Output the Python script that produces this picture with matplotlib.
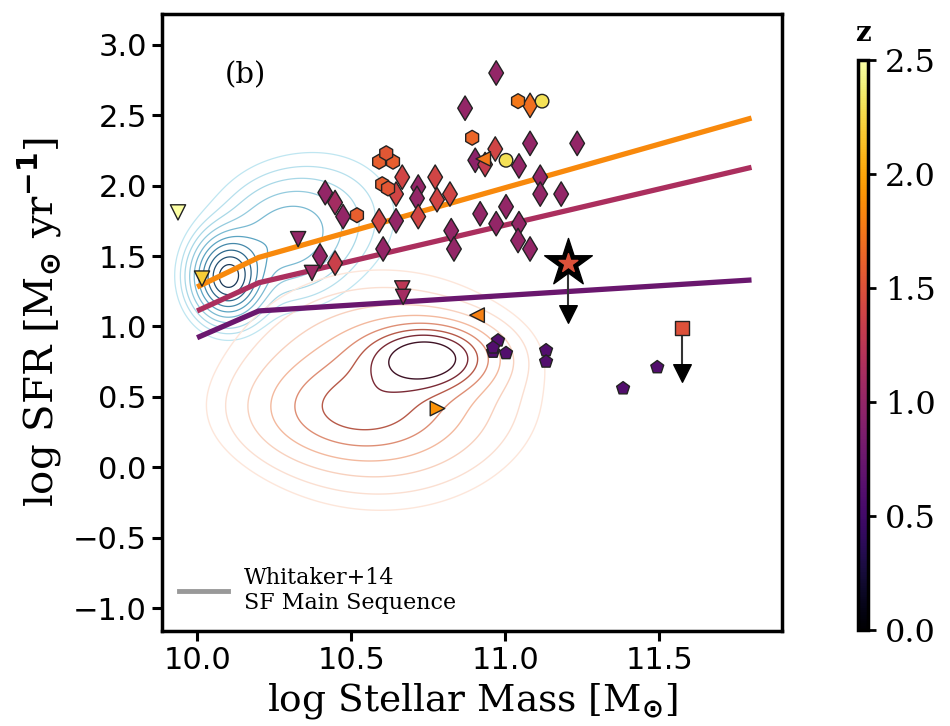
import numpy as np
import matplotlib
matplotlib.use("Agg")
import matplotlib.pyplot as plt
from matplotlib.lines import Line2D
from matplotlib.colors import LinearSegmentedColormap

# ---------------- data ----------------
# Whitaker+14 main sequence (broken line) in three redshift bins
ms_mass = [10.0, 10.2, 11.8]
ms_sfr_lowz = [0.92, 1.11, 1.33]
ms_sfr_midz = [1.11, 1.31, 2.13]
ms_sfr_highz = [1.28, 1.49, 2.48]
ms_z = [0.75, 1.15, 1.85]

# diamonds
dia_mass = [10.971, 10.870, 11.081, 11.081, 11.234, 10.903, 10.968, 11.045, 11.114, 11.114,
            11.182, 10.821, 10.919, 11.003, 10.971, 11.045, 11.042, 11.081, 10.825, 10.834,
            10.666, 10.646, 10.718, 10.714, 10.773, 10.779, 10.416, 10.448, 10.474, 10.591,
            10.646, 10.718, 10.604, 10.399, 10.448, 10.935]
dia_sfr = [2.80, 2.55, 2.57, 2.30, 2.30, 2.18, 2.26, 2.14, 2.06, 1.94,
           1.94, 1.94, 1.80, 1.85, 1.73, 1.73, 1.61, 1.55, 1.68, 1.55,
           2.06, 1.94, 1.99, 1.91, 2.06, 1.90, 1.95, 1.88, 1.78, 1.75,
           1.75, 1.78, 1.55, 1.50, 1.45, 2.15]
dia_z = [1.0, 1.0, 1.7, 1.0, 1.0, 0.95, 1.4, 1.0, 1.0, 1.0,
         1.0, 1.4, 1.0, 1.0, 1.0, 1.0, 1.0, 1.0, 1.0, 1.0,
         1.4, 1.4, 1.0, 1.0, 1.4, 1.4, 1.0, 1.1, 1.0, 1.4,
         1.0, 1.4, 1.0, 1.0, 1.35, 1.3]

# hexagons
hex_mass = [10.591, 10.636, 10.614, 10.601, 10.620, 10.519, 10.893, 11.042]
hex_sfr = [2.17, 2.17, 2.23, 2.01, 1.98, 1.79, 2.34, 2.60]
hex_z = [1.6, 1.6, 1.55, 1.6, 1.55, 1.6, 1.65, 1.75]

# circles
circ_mass = [11.120, 11.003]
circ_sfr = [2.60, 2.18]
circ_z = [2.3, 2.3]

# pentagons
pent_mass = [10.977, 10.961, 11.003, 10.961, 11.133, 11.133, 11.494, 11.383]
pent_sfr = [0.90, 0.82, 0.81, 0.85, 0.83, 0.75, 0.71, 0.56]
pent_z = [0.6, 0.6, 0.6, 0.6, 0.6, 0.6, 0.6, 0.6]

# downward triangles
tdn_mass = [9.938, 10.016, 10.328, 10.373, 10.666, 10.669]
tdn_sfr = [1.81, 1.34, 1.62, 1.38, 1.27, 1.21]
tdn_z = [2.5, 2.2, 1.0, 1.05, 1.25, 1.1]

# left triangles
tl_mass = [10.909, 10.929]
tl_sfr = [1.08, 2.19]
tl_z = [1.8, 1.75]

# right triangles
tr_mass = [10.779]
tr_sfr = [0.42]
tr_z = [1.9]

# upper limits: star and square
star_mass, star_sfr, star_lim, star_z = 11.205, 1.447, 1.09, 1.5
sq_mass, sq_sfr, sq_lim, sq_z = 11.575, 0.99, 0.67, 1.5

# population density components (centre x, centre y, sigma x, sigma y, weight)
sf_comp_x = [10.10, 10.28, 10.42]
sf_comp_y = [1.35, 1.62, 1.80]
sf_comp_sx = [0.065, 0.12, 0.14]
sf_comp_sy = [0.17, 0.24, 0.26]
sf_comp_w = [1.0, 0.30, 0.10]

q_comp_x = [10.75, 10.50, 10.60]
q_comp_y = [0.78, 0.40, 0.55]
q_comp_sx = [0.12, 0.19, 0.23]
q_comp_sy = [0.14, 0.21, 0.38]
q_comp_w = [1.0, 0.32, 0.40]

sf_levels = [0.03, 0.06, 0.10, 0.16, 0.24, 0.34, 0.46, 0.60, 0.75, 0.90]
q_levels = [0.025, 0.05, 0.10, 0.18, 0.29, 0.42, 0.56, 0.74]

xticks = [10.0, 10.5, 11.0, 11.5]
yticks = [-1.0, -0.5, 0.0, 0.5, 1.0, 1.5, 2.0, 2.5, 3.0]
cbar_ticks = [0.0, 0.5, 1.0, 1.5, 2.0, 2.5]

# ---------------- figure ----------------
fig = plt.figure(figsize=(9.5, 7.26), dpi=100)
ax = fig.add_axes([0.1705, 0.1309, 0.653, 0.850])
cax = fig.add_axes([0.903, 0.132, 0.011, 0.785])

cmap = plt.get_cmap("inferno")
norm = matplotlib.colors.Normalize(vmin=0.0, vmax=2.5)

# density contours
gx = np.linspace(9.8, 11.9, 400)
gy = np.linspace(-1.2, 3.2, 400)
GX, GY = np.meshgrid(gx, gy)


def dens(cx, cy, sx, sy, w):
    d = np.zeros_like(GX)
    for a, b, c, e, f in zip(cx, cy, sx, sy, w):
        d += f * np.exp(-0.5 * (((GX - a) / c) ** 2 + ((GY - b) / e) ** 2))
    return d / d.max()


sf_d = dens(sf_comp_x, sf_comp_y, sf_comp_sx, sf_comp_sy, sf_comp_w)
q_d = dens(q_comp_x, q_comp_y, q_comp_sx, q_comp_sy, q_comp_w)

blue_cmap = LinearSegmentedColormap.from_list("b", ["#bfe6f1", "#5fa9c6", "#2a6589", "#1a3858"])
red_cmap = LinearSegmentedColormap.from_list("r", ["#fde6da", "#f1b295", "#c8674f", "#7a2a35", "#3e1225"])
ax.contour(GX, GY, sf_d, levels=sf_levels, cmap=blue_cmap,
           linewidths=0.9, zorder=1)
ax.contour(GX, GY, q_d, levels=q_levels, cmap=red_cmap,
           linewidths=1.0, zorder=1)

# main sequence lines
for sfr, z in zip([ms_sfr_lowz, ms_sfr_midz, ms_sfr_highz], ms_z):
    ax.plot(ms_mass, sfr, color=cmap(norm(z)), lw=3.8, solid_capstyle="butt", zorder=2)

ec = "#222222"
kw = dict(cmap=cmap, norm=norm, edgecolors=ec, linewidths=1.0, zorder=4)
ax.scatter(dia_mass, dia_sfr, c=dia_z, marker="d", s=155, **kw)
ax.scatter(hex_mass, hex_sfr, c=hex_z, marker="h", s=115, **kw)
ax.scatter(circ_mass, circ_sfr, c=circ_z, marker="o", s=95, **kw)
ax.scatter(pent_mass, pent_sfr, c=pent_z, marker="p", s=95, **kw)
ax.scatter(tdn_mass, tdn_sfr, c=tdn_z, marker="v", s=120, **kw)
ax.scatter(tl_mass, tl_sfr, c=tl_z, marker="<", s=110, **kw)
ax.scatter(tr_mass, tr_sfr, c=tr_z, marker=">", s=110, **kw)

# upper limits
ax.plot([star_mass, star_mass], [star_sfr, star_lim], color="#333333", lw=1.5, zorder=3)
ax.scatter([star_mass], [star_lim], marker="v", s=160, color="black", zorder=3)
ax.scatter([star_mass], [star_sfr], marker="*", s=1300, color="black", zorder=5)
ax.scatter([star_mass], [star_sfr], c=[star_z], marker="*", s=200, cmap=cmap, norm=norm, zorder=6)

ax.plot([sq_mass, sq_mass], [sq_sfr, sq_lim], color="#333333", lw=1.5, zorder=3)
ax.scatter([sq_mass], [sq_lim], marker="v", s=160, color="black", zorder=3)
ax.scatter([sq_mass], [sq_sfr], c=[sq_z], marker="s", s=110, **kw)

ax.set_xlim(9.886, 11.9)
ax.set_ylim(-1.163, 3.22)
ax.set_xticks(xticks)
ax.set_yticks(yticks)
ax.tick_params(direction="out", length=7, width=2.2, labelsize=22, pad=4)
for lab in ax.get_xticklabels() + ax.get_yticklabels():
    lab.set_fontfamily("DejaVu Sans")
for s in ax.spines.values():
    s.set_linewidth(2.5)

ax.set_xlabel(r"log Stellar Mass [M$_{\mathbf{\odot}}$]", fontsize=27, family="DejaVu Serif", labelpad=4)
ax.set_ylabel(r"log SFR [M$_{\mathbf{\odot}}$ yr$^{\mathbf{-1}}$]", fontsize=29, family="DejaVu Serif", labelpad=6)

ax.text(10.156, 2.78, "(b)", fontsize=21, family="DejaVu Serif", ha="center", va="center")

leg_handle = Line2D([0], [0], color="#999999", lw=3.5)
leg = ax.legend([leg_handle], ["Whitaker+14\nSF Main Sequence"], loc="lower left",
                frameon=False, prop={"family": "DejaVu Serif", "size": 16},
                handlelength=2.2, borderaxespad=0.35, handletextpad=0.75)

# colorbar
sm = matplotlib.cm.ScalarMappable(norm=norm, cmap=cmap)
cb = fig.colorbar(sm, cax=cax, ticks=cbar_ticks)
cb.outline.set_linewidth(2.5)
cax.tick_params(length=6, width=2, labelsize=23, pad=6)
for lab in cax.get_yticklabels():
    lab.set_fontfamily("DejaVu Serif")
cax.set_title("z", fontsize=20, family="DejaVu Serif", fontweight="bold", pad=14)

fig.savefig("out.png", dpi=100)
